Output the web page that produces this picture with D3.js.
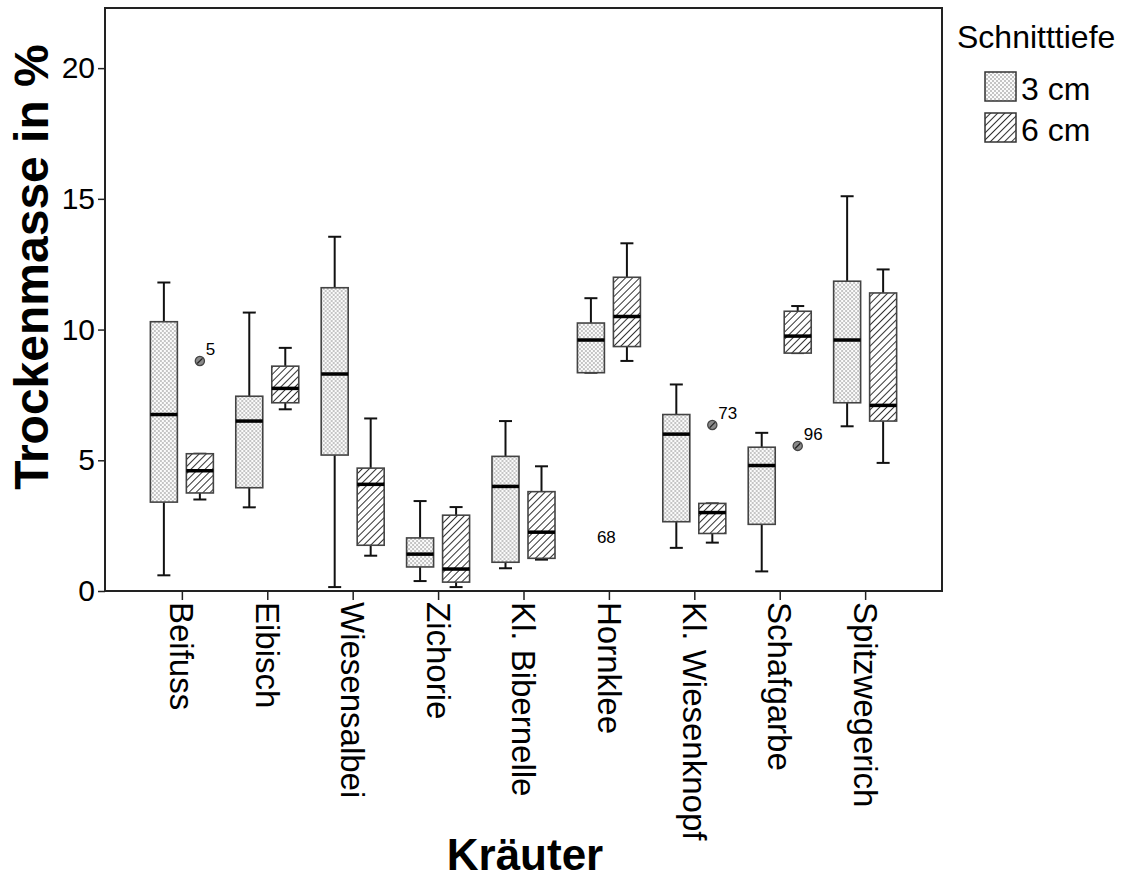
<!DOCTYPE html>
<html>
<head>
<meta charset="utf-8">
<script src="https://cdn.jsdelivr.net/npm/d3@7"></script>
<style>
html,body{margin:0;padding:0;background:#fff;}
svg{display:block;}
text{font-family:"Liberation Sans",Arial,sans-serif;fill:#000;}
</style>
</head>
<body>
<svg id="chart" width="1126" height="892"></svg>
<script>
// ---- data ----
const categories = ["Beifuss","Eibisch","Wiesensalbei","Zichorie","Kl. Bibernelle","Hornklee","Kl. Wiesenknopf","Schafgarbe","Spitzwegerich"];
const groups = ["3 cm","6 cm"];
// five-number summaries per category: [min, q1, median, q3, max]
const min3 = [0.6, 3.2, 0.15, 0.38, 0.87, 8.35, 1.65, 0.75, 6.3];
const q1_3 = [3.4, 3.95, 5.2, 0.92, 1.1, 8.35, 2.65, 2.55, 7.2];
const med3 = [6.75, 6.5, 8.3, 1.41, 4.0, 9.6, 6.0, 4.8, 9.6];
const q3_3 = [10.3, 7.45, 11.6, 2.03, 5.15, 10.25, 6.75, 5.5, 11.85];
const max3 = [11.8, 10.65, 13.55, 3.44, 6.5, 11.2, 7.9, 6.05, 15.1];
const min6 = [3.5, 6.95, 1.35, 0.15, 1.2, 8.8, 1.85, 9.1, 4.9];
const q1_6 = [3.75, 7.2, 1.75, 0.34, 1.25, 9.35, 2.2, 9.1, 6.5];
const med6 = [4.6, 7.75, 4.08, 0.84, 2.25, 10.5, 3.0, 9.75, 7.1];
const q3_6 = [5.25, 8.6, 4.7, 2.9, 3.8, 12.0, 3.35, 10.7, 11.4];
const max6 = [5.25, 9.3, 6.6, 3.21, 4.77, 13.3, 3.35, 10.9, 12.3];
// outliers: category, group, value, case label, marker shown
const outCat = ["Beifuss","Hornklee","Kl. Wiesenknopf","Schafgarbe"];
const outGroup = ["6 cm","3 cm","6 cm","6 cm"];
const outVal = [8.8, 1.6, 6.35, 5.55];
const outLabel = ["5","68","73","96"];
const outMarker = [true, false, true, true];
const yTicks = [0,5,10,15,20];

const stats = {
  "3 cm": categories.map((c,i)=>({cat:c, group:"3 cm", min:min3[i], q1:q1_3[i], med:med3[i], q3:q3_3[i], max:max3[i]})),
  "6 cm": categories.map((c,i)=>({cat:c, group:"6 cm", min:min6[i], q1:q1_6[i], med:med6[i], q3:q3_6[i], max:max6[i]}))
};

// ---- layout ----
const L = 105, R = 942, T = 8, B = 591;
const svg = d3.select("#chart");
const defs = svg.append("defs");

// patterns
const pDots = defs.append("pattern").attr("id","dots").attr("patternUnits","userSpaceOnUse")
  .attr("width",4).attr("height",4);
pDots.append("rect").attr("width",4).attr("height",4).attr("fill","#fbfbfb");
pDots.append("circle").attr("cx",1).attr("cy",1).attr("r",0.7).attr("fill","#666");
pDots.append("circle").attr("cx",3).attr("cy",3).attr("r",0.7).attr("fill","#666");

const pHatch = defs.append("pattern").attr("id","hatch").attr("patternUnits","userSpaceOnUse")
  .attr("width",5).attr("height",5).attr("patternTransform","rotate(45)");
pHatch.append("rect").attr("width",5).attr("height",5).attr("fill","#fff");
pHatch.append("line").attr("x1",0).attr("y1",0).attr("x2",0).attr("y2",5)
  .attr("stroke","#333").attr("stroke-width",2);

const fillFor = {"3 cm":"url(#dots)", "6 cm":"url(#hatch)"};

const x = d3.scalePoint().domain(categories).range([L,R]).padding(0.9);
const off = d3.scaleOrdinal().domain(groups).range([-18, 18]);
const y = d3.scaleLinear().domain([0,22.3]).range([B,T]);
const boxW = 27, capW = 13;

// frame
svg.append("rect").attr("x",L).attr("y",T).attr("width",R-L).attr("height",B-T)
  .attr("fill","none").attr("stroke","#222").attr("stroke-width",2);

// y axis
const yAxis = svg.append("g").attr("transform",`translate(${L},0)`)
  .call(d3.axisLeft(y).tickValues(yTicks).tickSize(7).tickPadding(3).tickFormat(d3.format("d")));
yAxis.select(".domain").remove();
yAxis.selectAll(".tick line").attr("stroke","#222").attr("stroke-width",1.5);
yAxis.selectAll(".tick text").style("font-size","30px").attr("fill","#000")
  .style("font-family","'Liberation Sans',Arial,sans-serif");

// x axis
const xAxis = svg.append("g").attr("transform",`translate(0,${B})`)
  .call(d3.axisBottom(x).tickSize(9).tickPadding(0));
xAxis.select(".domain").remove();
xAxis.selectAll(".tick line").attr("stroke","#222").attr("stroke-width",1.5);
xAxis.selectAll(".tick text")
  .attr("transform","rotate(90)")
  .attr("x",11).attr("y",0).attr("dy","0.36em")
  .attr("text-anchor","start")
  .style("font-size","33px").attr("fill","#000")
  .style("font-family","'Liberation Sans',Arial,sans-serif");

// boxes
groups.forEach(g => {
  const gg = svg.append("g");
  const sel = gg.selectAll("g.box").data(stats[g]).enter().append("g").attr("class","box")
    .attr("transform", d => `translate(${x(d.cat)+off(g)},0)`);
  sel.append("line").attr("x1",0).attr("x2",0).attr("y1",d=>y(d.max)).attr("y2",d=>y(d.q3))
    .attr("stroke","#111").attr("stroke-width",2);
  sel.append("line").attr("x1",0).attr("x2",0).attr("y1",d=>y(d.q1)).attr("y2",d=>y(d.min))
    .attr("stroke","#111").attr("stroke-width",2);
  sel.append("line").attr("x1",-capW/2).attr("x2",capW/2).attr("y1",d=>y(d.max)).attr("y2",d=>y(d.max))
    .attr("stroke","#111").attr("stroke-width",2);
  sel.append("line").attr("x1",-capW/2).attr("x2",capW/2).attr("y1",d=>y(d.min)).attr("y2",d=>y(d.min))
    .attr("stroke","#111").attr("stroke-width",2);
  sel.append("rect").attr("x",-boxW/2).attr("width",boxW)
    .attr("y",d=>y(d.q3)).attr("height",d=>y(d.q1)-y(d.q3))
    .attr("fill",fillFor[g]).attr("stroke","#444").attr("stroke-width",1.6);
  sel.append("line").attr("x1",-boxW/2).attr("x2",boxW/2).attr("y1",d=>y(d.med)).attr("y2",d=>y(d.med))
    .attr("stroke","#000").attr("stroke-width",3.5);
});

// outliers
const outs = outCat.map((c,i)=>({cat:c, group:outGroup[i], v:outVal[i], label:outLabel[i], marker:outMarker[i]}));
const og = svg.append("g").selectAll("g").data(outs).enter().append("g")
  .attr("transform", d => `translate(${x(d.cat)+off(d.group)},${y(d.v)})`);
og.filter(d=>d.marker).append("circle").attr("r",4.6).attr("fill","#8a8a8a").attr("stroke","#444").attr("stroke-width",1.3);
og.filter(d=>d.marker).append("line").attr("x1",-2.6).attr("y1",2.6).attr("x2",2.6).attr("y2",-2.6)
  .attr("stroke","#222").attr("stroke-width",1.3);
og.append("text").attr("x",6).attr("y",-6).text(d=>d.label).style("font-size","17px").attr("fill","#222");

// axis titles
svg.append("text").attr("x",525).attr("y",870).attr("text-anchor","middle")
  .style("font-size","44px").style("font-weight","bold").text("Kräuter");
svg.append("text").attr("transform","translate(48,267) rotate(-90)").attr("text-anchor","middle")
  .style("font-size","48px").style("font-weight","bold").text("Trockenmasse in %");

// legend
const lg = svg.append("g");
lg.append("text").attr("x",957).attr("y",48).style("font-size","32px").text("Schnitttiefe");
groups.forEach((g,i) => {
  const yy = 72 + i*41;
  lg.append("rect").attr("x",985).attr("y",yy).attr("width",31).attr("height",29)
    .attr("fill",fillFor[g]).attr("stroke","#333").attr("stroke-width",1.5);
  lg.append("text").attr("x",1021).attr("y",yy+28).style("font-size","32px").text(g);
});
</script>
</body>
</html>
